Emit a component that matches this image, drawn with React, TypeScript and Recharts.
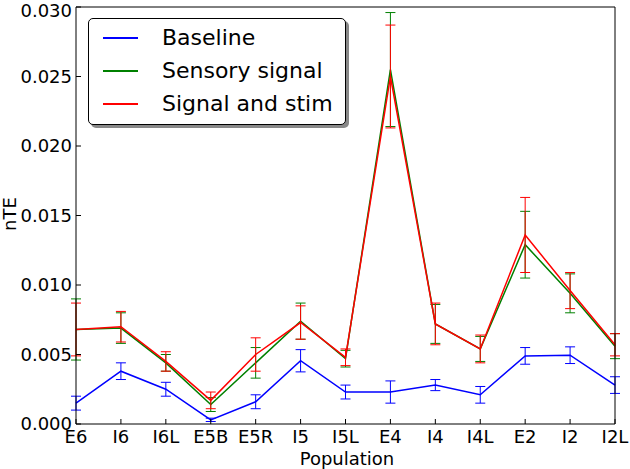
import React from 'react';
import { LineChart, Line, XAxis, YAxis, ErrorBar, Legend } from 'recharts';

const categories = ['E6', 'I6', 'I6L', 'E5B', 'E5R', 'I5', 'I5L', 'E4', 'I4', 'I4L', 'E2', 'I2', 'I2L'];

const baseline = [0.0015, 0.0038, 0.0025, 0.0003, 0.0016, 0.00455, 0.0023, 0.0023, 0.0028, 0.0021, 0.0049, 0.00495, 0.0028];
const baselineErr = [0.0005, 0.0006, 0.0005, 0.00012, 0.0005, 0.0008, 0.0005, 0.0008, 0.0004, 0.0006, 0.0006, 0.0006, 0.0006];

const sensory = [0.0068, 0.0069, 0.0044, 0.0014, 0.0044, 0.0074, 0.0047, 0.0255, 0.0072, 0.0054, 0.0129, 0.0094, 0.0056];
const sensoryErr = [0.0022, 0.0011, 0.0006, 0.0005, 0.0011, 0.0013, 0.0006, 0.0041, 0.0014, 0.0009, 0.0024, 0.0014, 0.0009];

const stim = [0.0068, 0.007, 0.0045, 0.0017, 0.005, 0.0073, 0.0048, 0.025, 0.0072, 0.0054, 0.0136, 0.0096, 0.0057];
const stimErr = [0.0019, 0.0011, 0.0007, 0.0006, 0.0012, 0.0012, 0.0006, 0.0037, 0.0015, 0.001, 0.0027, 0.0013, 0.0008];

const yTicks = [0, 0.005, 0.01, 0.015, 0.02, 0.025, 0.03];

const series = [
  { key: 'baseline', label: 'Baseline', color: '#0000ff' },
  { key: 'sensory', label: 'Sensory signal', color: '#008000' },
  { key: 'stim', label: 'Signal and stim', color: '#ff0000' },
];

const data = categories.map((name, i) => ({
  name,
  baseline: baseline[i],
  baselineErr: baselineErr[i],
  sensory: sensory[i],
  sensoryErr: sensoryErr[i],
  stim: stim[i],
  stimErr: stimErr[i],
}));

const FONT = '"DejaVu Sans", sans-serif';

// matplotlib-style legend box with a drop shadow
const LegendBox = () => (
  <div
    style={{
      position: 'absolute',
      left: 88,
      top: 18,
      width: 256,
      height: 105,
      border: '1px solid #000',
      borderRadius: 5,
      background: '#fff',
      boxShadow: '3px 3px 0 #888',
      fontFamily: FONT,
      fontSize: 22,
      color: '#000',
    }}
  >
    {series.map((s, i) => (
      <div key={s.key} style={{ position: 'absolute', left: 0, top: 4 + i * 33, height: 30, width: 256 }}>
        <div style={{ position: 'absolute', left: 14, top: 14, width: 35, height: 1.5, background: s.color }} />
        <span style={{ position: 'absolute', left: 73, top: 0, lineHeight: '30px', whiteSpace: 'nowrap' }}>{s.label}</span>
      </div>
    ))}
  </div>
);

const App: React.FC = () => {
  return (
    <div style={{ position: 'absolute', left: 0, top: 0, width: 630, height: 469, background: '#fff' }}>
      <LineChart width={630} height={469} data={data} margin={{ top: 6, right: 0, bottom: 0, left: 0 }}>
        <XAxis
          dataKey="name"
          interval={0}
          height={45}
          tickSize={-5}
          tickMargin={11}
          stroke="#000"
          tick={{ fill: '#000', fontSize: 18, fontFamily: FONT }}
          label={{
            content: () => (
              <text x={347} y={465} textAnchor="middle" fontSize={18} fontFamily={FONT} fill="#000">
                Population
              </text>
            ),
          }}
        />
        <XAxis xAxisId="top" dataKey="name" orientation="top" height={1} tick={false} tickSize={-5} stroke="#000" interval={0} />
        <YAxis
          width={76}
          domain={[0, 0.03]}
          ticks={yTicks}
          tickFormatter={(v: number) => v.toFixed(3)}
          tickSize={-5}
          tickMargin={9}
          stroke="#000"
          tick={{ fill: '#000', fontSize: 18, fontFamily: FONT }}
          label={{
            content: () => (
              <text x={16} y={214} transform="rotate(-90 16 214)" textAnchor="middle" fontSize={18} fontFamily={FONT} fill="#000">
                nTE
              </text>
            ),
          }}
        />
        <YAxis yAxisId="right" orientation="right" width={15} domain={[0, 0.03]} ticks={yTicks} tick={false} tickSize={-5} stroke="#000" />
        <Legend content={() => <LegendBox />} wrapperStyle={{ position: 'absolute', left: 0, top: 0, width: 0, height: 0 }} />
        {series.map((s) => (
          <Line
            key={s.key}
            type="linear"
            dataKey={s.key}
            name={s.label}
            stroke={s.color}
            strokeWidth={1.5}
            dot={false}
            isAnimationActive={false}
          >
            <ErrorBar dataKey={`${s.key}Err`} direction="y" width={5} stroke={s.color} strokeWidth={1} />
          </Line>
        ))}
      </LineChart>
    </div>
  );
};

export default App;
